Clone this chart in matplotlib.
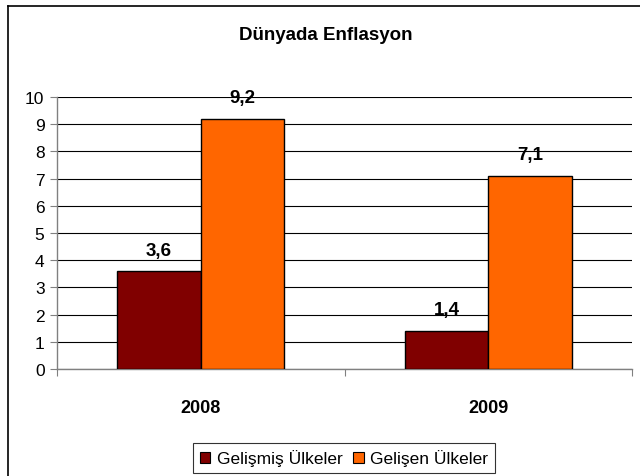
import numpy as np
import matplotlib
matplotlib.use('Agg')
import matplotlib.pyplot as plt
from matplotlib.lines import Line2D
from matplotlib.patches import Patch

plt.rcParams['font.family'] = ['Liberation Sans', 'DejaVu Sans']

# Data
years = ['2008', '2009']
gelismis = [3.6, 1.4]
gelisen = [9.2, 7.1]
series_names = ['Gelişmiş Ülkeler', 'Gelişen Ülkeler']
colors = ['#800000', '#FF6600']
yticks = list(range(0, 11))

fig = plt.figure(figsize=(6.4, 4.77), dpi=100)
ax = fig.add_axes([57 / 640, 1 - 370 / 477, 575 / 640, 272 / 477])

x = np.arange(len(years))
w = 0.29
for vals, off, col in [(gelismis, -w / 2, colors[0]), (gelisen, w / 2, colors[1])]:
    bars = ax.bar(x + off, vals, width=w, color=col, edgecolor='black', linewidth=1, zorder=3)
    for b, v in zip(bars, vals):
        ax.annotate(f'{v:.1f}'.replace('.', ','), (b.get_x() + b.get_width() / 2, v),
                    xytext=(0, 9), textcoords='offset points', ha='center', va='bottom',
                    fontsize=13.5, fontweight='bold')

ax.set_xlim(-0.5, 1.5)
ax.set_ylim(0, 10)
ax.set_yticks(yticks)
ax.set_yticklabels([str(t) for t in yticks], fontsize=12.5)
ax.yaxis.grid(True, color='black', linewidth=0.8, zorder=0)
ax.set_axisbelow(True)

# category labels; ticks at category boundaries
ax.set_xticks([-0.5, 0.5, 1.5])
ax.set_xticklabels([])
ax.tick_params(axis='x', length=5, color='#808080')
ax.tick_params(axis='y', length=5, color='#808080', pad=4)
for xi, lab in zip(x, years):
    ax.text(xi, -1.4, lab, ha='center', va='center', fontsize=13, fontweight='bold')

for s in ['top', 'right']:
    ax.spines[s].set_visible(False)
for s in ['left', 'bottom']:
    ax.spines[s].set_color('#808080')
    ax.spines[s].set_linewidth(1)

fig.text(326 / 640, 1 - 36 / 477, 'Dünyada Enflasyon', ha='center', va='center',
         fontsize=13.5, fontweight='bold')

handles = [Patch(facecolor=c, edgecolor='black', linewidth=0.8) for c in colors]
leg = fig.legend(handles, series_names, loc='center', bbox_to_anchor=(344 / 640, 1 - 459 / 477),
                 ncol=2, fontsize=12.5, frameon=True, fancybox=False, handlelength=0.6,
                 handleheight=0.6, handletextpad=0.4, columnspacing=0.6, borderpad=0.35)
leg.get_frame().set_edgecolor('black')
leg.get_frame().set_linewidth(0.8)

# figure border (top and left edges visible)
fig.add_artist(Line2D([8 / 640, 8 / 640], [0, 1 - 7 / 477], transform=fig.transFigure,
                      color='black', linewidth=1.2))
fig.add_artist(Line2D([8 / 640, 1], [1 - 7 / 477, 1 - 7 / 477], transform=fig.transFigure,
                      color='black', linewidth=1.2))

fig.savefig('out.png', dpi=100)
